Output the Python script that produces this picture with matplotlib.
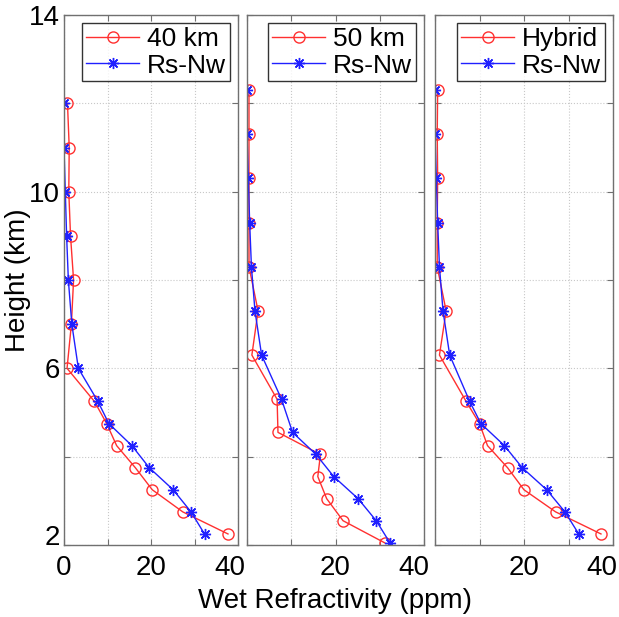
import matplotlib
matplotlib.use("Agg")
import matplotlib.pyplot as plt
from matplotlib.transforms import ScaledTranslation

plt.rcParams["font.family"] = ["Liberation Sans", "DejaVu Sans"]

# Wet refractivity profiles (ppm) against height (km)
rs_nw = [0.0, 0.0, 0.3, 0.6, 1.0, 1.8, 3.3, 7.8, 10.3, 15.6, 19.6, 25.1, 29.2, 32.3]

h_40 = [12.0, 11.0, 10.0, 9.0, 8.0, 7.0, 6.0, 5.25, 4.75, 4.25, 3.75, 3.25, 2.75, 2.25]
n_40 = [0.8, 1.2, 1.1, 1.5, 2.2, 1.7, 0.7, 7.0, 9.8, 12.1, 16.4, 20.3, 27.3, 37.7]

h_50 = [12.3, 11.3, 10.3, 9.3, 8.3, 7.3, 6.3, 5.3, 4.55, 4.05, 3.55, 3.05, 2.55, 2.05]
n_50 = [0.45, 0.45, 0.45, 0.45, 0.45, 2.5, 1.1, 6.8, 7.0, 16.6, 16.0, 18.0, 21.7, 31.1]

h_hyb = [12.3, 11.3, 10.3, 9.3, 8.3, 7.3, 6.3, 5.25, 4.75, 4.25, 3.75, 3.25, 2.75, 2.25]
n_hyb = [0.6, 0.5, 0.6, 0.5, 0.5, 2.5, 1.0, 7.0, 10.0, 11.8, 16.3, 20.0, 27.1, 37.3]

labels = ["40 km", "50 km", "Hybrid"]
x_ticks = [0, 10, 20, 30, 40]
y_ticks = [2, 4, 6, 8, 10, 12, 14]
y_ticklabels = ["2", "", "6", "", "10", "", "14"]

fig = plt.figure(figsize=(6.19, 6.17), dpi=100)
W, H = 619, 617
boxes = [(64, 238), (247, 424), (435, 613)]
top, bottom = 15, 545
last_shift = [-0.08, -0.10, -0.115]  # inches, last x label pulled inward

panels = [(h_40, n_40), (h_50, n_50), (h_hyb, n_hyb)]
axes = []
for i, ((x0, x1), (hh, nn), lab) in enumerate(zip(boxes, panels, labels)):
    ax = fig.add_axes([x0 / W, (H - bottom) / H, (x1 - x0) / W, (bottom - top) / H])
    ax.plot(nn, hh, color="#ff3030", lw=1.0, marker="o", ms=8,
            mfc="none", mec="#ff3030", mew=1.0, label=lab)
    ax.plot(rs_nw, hh, color="#2020ff", lw=1.0, marker=(8, 2, 0), ms=8,
            mew=1.0, label="Rs-Nw")
    ax.set_xlim(0, 40)
    ax.set_ylim(2, 14)
    ax.set_xticks(x_ticks)
    ax.set_yticks(y_ticks)
    if i == 0:
        ax.set_xticklabels(["0", "", "20", "", "40"])
        ax.set_yticklabels(y_ticklabels)
    else:
        ax.set_xticklabels(["", "", "20", "", "40"])
        ax.set_yticklabels([])
    ax.tick_params(direction="in", length=4, width=0.8, colors="#707070",
                   labelcolor="black", labelsize=20, top=True, right=True)
    ax.tick_params(axis="x", pad=7)
    ax.tick_params(axis="y", pad=3)
    last = ax.get_xticklabels()[-1]
    last.set_transform(last.get_transform()
                       + ScaledTranslation(last_shift[i], 0, fig.dpi_scale_trans))
    ax.grid(True, linestyle=":", color="#c8c8c8", lw=0.8)
    for s in ax.spines.values():
        s.set_color("#707070")
        s.set_linewidth(1.0)
    leg = ax.legend(loc="upper right", fontsize=19, frameon=True, fancybox=False,
                    handlelength=2.0, borderaxespad=0.3, borderpad=0.15,
                    labelspacing=0.1, handletextpad=0.3)
    leg.get_frame().set_edgecolor("black")
    leg.get_frame().set_linewidth(1.0)
    axes.append(ax)

# the "2" label sits a little above the bottom edge
lab2 = axes[0].get_yticklabels()[0]
lab2.set_transform(lab2.get_transform() + ScaledTranslation(0, 0.1, fig.dpi_scale_trans))

axes[0].set_ylabel("Height (km)", fontsize=20)
axes[0].yaxis.set_label_coords(-0.19, 0.5)
axes[1].set_xlabel("Wet Refractivity (ppm)", fontsize=20, labelpad=5)

fig.savefig("out.png", dpi=100)
